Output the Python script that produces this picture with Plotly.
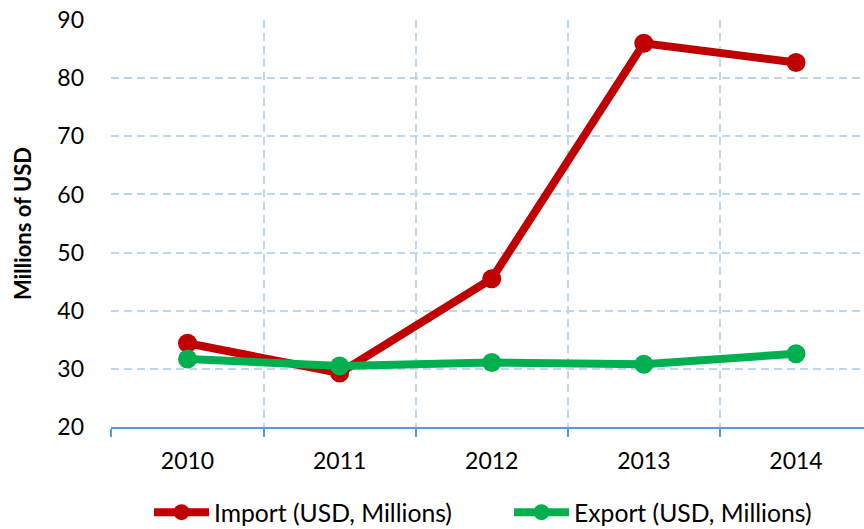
import plotly.graph_objects as go

years = [2010, 2011, 2012, 2013, 2014]
year_labels = ["2010", "2011", "2012", "2013", "2014"]
imports = [34.4, 29.3, 45.5, 86.0, 82.7]
exports = [31.7, 30.5, 31.1, 30.8, 32.6]
boundaries = [2009.5, 2010.5, 2011.5, 2012.5, 2013.5, 2014.5]

FONT = "Lato"
GRID = "#BDD7EE"
AXIS = "#5B9BD5"
W, H = 864, 529

fig = go.Figure()
fig.add_trace(go.Scatter(
    x=years, y=imports, mode="lines+markers", name="Import (USD, Millions)",
    line=dict(color="#C00000", width=8), marker=dict(color="#C00000", size=19),
))
fig.add_trace(go.Scatter(
    x=years, y=exports, mode="lines+markers", name="Export (USD, Millions)",
    line=dict(color="#00B050", width=8), marker=dict(color="#00B050", size=19),
))

fig.update_layout(
    width=W, height=H,
    margin=dict(l=111, r=0, t=20, b=102, autoexpand=False),
    paper_bgcolor="white", plot_bgcolor="white",
    font=dict(family=FONT, color="black"),
    showlegend=True,
    legend=dict(
        orientation="h", xref="container", yref="container",
        x=149 / W, xanchor="left", y=0.031, yanchor="middle",
        font=dict(size=24.7, family=FONT), itemwidth=55,
        entrywidth=290, traceorder="normal",
    ),
    xaxis=dict(
        range=[2009.497, 2014.447], tickvals=years, ticktext=year_labels,
        showgrid=False, ticks="", showline=True, linecolor=AXIS, linewidth=1.5,
        tickfont=dict(size=23, family=FONT), ticklabelstandoff=13,
        zeroline=False, automargin=False, ticklabeloverflow="allow",
        minor=dict(tickvals=boundaries, showgrid=True, gridcolor=GRID,
                   griddash="8px,5px", gridwidth=1.5,
                   ticks="outside", ticklen=8, tickcolor=AXIS, tickwidth=1.5),
    ),
    yaxis=dict(
        range=[20, 90.002], dtick=10, tick0=20,
        showgrid=True, gridcolor=GRID, griddash="8px,5px", gridwidth=1.5,
        showline=False, zeroline=False, ticks="", automargin=False,
        ticklabeloverflow="allow",
        tickfont=dict(size=23, family=FONT), ticklabelstandoff=26,
        title=dict(text="<b>Millions of USD</b>", font=dict(size=22, family=FONT), standoff=19),
    ),
)

fig.write_html("out.html", config={"displayModeBar": False},
               post_script="document.body.style.margin='0';")
